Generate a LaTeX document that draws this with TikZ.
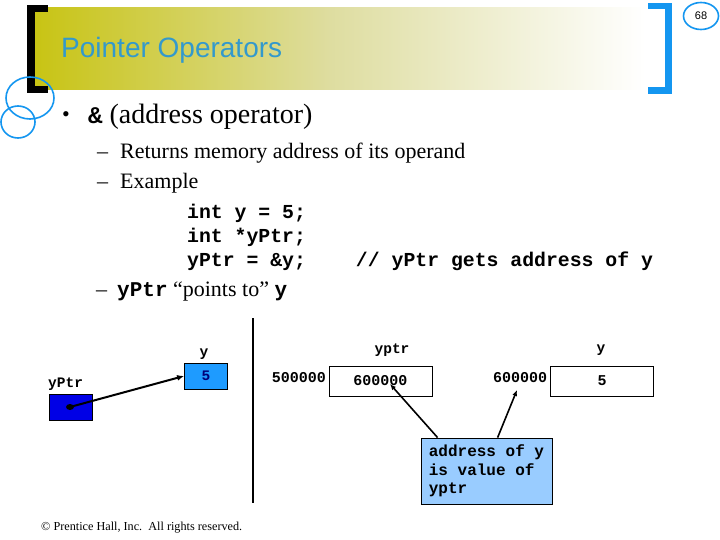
\documentclass[tikz,border=0pt]{standalone}
\usepackage{fontspec}
\setmainfont{Liberation Serif}
\newfontfamily\arialf{Liberation Sans}
\newfontfamily\courf{Liberation Mono}
\usetikzlibrary{arrows.meta,shapes.geometric}
\definecolor{olivey}{RGB}{200,196,20}
\definecolor{olivem}{RGB}{222,221,160}
\definecolor{titleblue}{RGB}{51,153,204}
\definecolor{brblue}{RGB}{20,150,240}
\definecolor{ybox}{RGB}{30,155,255}
\definecolor{pboxc}{RGB}{0,0,230}
\definecolor{calloutc}{RGB}{153,204,255}
\definecolor{darkbluetxt}{RGB}{0,0,120}
\tikzset{
  txt/.style={anchor=west, inner sep=0pt},
  lbl/.style={inner sep=0pt, font=\courf\bfseries\fontsize{14.5}{16}\selectfont},
  mem/.style={inner sep=0pt, font=\courf\bfseries\fontsize{15}{17}\selectfont},
  cell/.style={draw=black, line width=0.8pt, minimum width=103pt, minimum height=30pt, inner sep=0pt, font=\courf\bfseries\fontsize{15}{17}\selectfont},
  arr/.style={-{Latex[length=6pt,width=5pt]}, line width=1.6pt},
}
\begin{document}
\begin{tikzpicture}[x=1pt,y=-1pt]
\useasboundingbox (0,0) rectangle (720,540);
\fill[white] (0,0) rectangle (720,540);
% title band
\shade[left color=olivey, right color=olivem] (35,8) rectangle (330,90);
\shade[left color=olivem, right color=white] (330,8) rectangle (645,90);
% brackets
\fill[black] (27,5) rectangle (35,93);
\fill[black] (27,5) rectangle (48,12);
\fill[black] (27,86) rectangle (48,93);
\fill[brblue] (665,3) rectangle (672,94);
\fill[brblue] (648,3) rectangle (672,9);
\fill[brblue] (648,87) rectangle (672,94);
% decorative circles
\draw[brblue, line width=1.6pt] (30,98) ellipse (24pt and 21pt);
\draw[brblue, line width=1.6pt] (18,122) ellipse (17pt and 16pt);
\node[draw=brblue, line width=1.6pt, ellipse, minimum width=35pt, minimum height=27pt, inner sep=0pt, font=\arialf\fontsize{11}{11}\selectfont] (pagenum) at (701,16) {68};
% title
\node[txt, text=titleblue, font=\arialf\fontsize{28}{28}\selectfont] (title) at (61,50) {Pointer Operators};
% bullets
\node[inner sep=0pt, font=\fontsize{22}{22}\selectfont] (bul) at (66,117) {•};
\node[txt, font=\fontsize{28}{28}\selectfont] (l1) at (88,117) {{\courf\bfseries\fontsize{24}{24}\selectfont\&} (address operator)};
\node[txt, font=\fontsize{22}{22}\selectfont] (l2) at (97,153) {–\hspace{12pt}Returns memory address of its operand};
\node[txt, font=\fontsize{22}{22}\selectfont] (l3) at (97,183) {–\hspace{12pt}Example};
% code
\node[txt, font=\courf\bfseries\fontsize{19.8}{24}\selectfont] (c1) at (187,213) {int y = 5;};
\node[txt, font=\courf\bfseries\fontsize{19.8}{24}\selectfont] (c2) at (187,237) {int *yPtr;};
\node[txt, font=\courf\bfseries\fontsize{19.8}{24}\selectfont] (c3) at (187,261) {yPtr = \&y;\hspace{50pt}// yPtr gets address of y};
\node[txt, font=\fontsize{22}{22}\selectfont] (l4) at (96,292) {–\hspace{10pt}{\courf\bfseries\fontsize{21}{21}\selectfont yPtr} “points to” {\courf\bfseries\fontsize{21}{21}\selectfont y}};
% separator
\coordinate (septop) at (253,318);
\coordinate (sepbot) at (253,503);
\draw[line width=1.2pt] (septop) -- (sepbot);
% left small diagram
\node[lbl] (ylab) at (204,354) {y};
\node[draw=black, line width=0.8pt, fill=ybox, minimum width=43pt, minimum height=26pt, inner sep=0pt, text=darkbluetxt, font=\courf\bfseries\fontsize{14.5}{16}\selectfont] (ysmall) at (206,376) {5};
\node[lbl, anchor=west] (plab) at (48,384) {yPtr};
\node[draw=black, line width=0.8pt, fill=pboxc, minimum width=43pt, minimum height=26pt, inner sep=0pt] (psmall) at (70.5,407) {};
\coordinate (dot) at (70,407);
\fill[black] (dot) ellipse (4pt and 3pt);
\draw[-{Latex[length=7pt,width=6pt]}, line width=2pt] (dot) -- (ysmall.west);
% right memory diagram
\node[lbl] (yptrlab) at (392,350) {yptr};
\node[lbl] (ybiglab) at (601,350) {y};
\node[mem] (addr1) at (299,378) {500000};
\node[cell] (bp) at (380.5,381) {600000};
\node[mem] (addr2) at (520,378) {600000};
\node[cell] (ybig) at (602,381) {5};
% callout
\node[draw=black, line width=0.8pt, fill=calloutc, minimum width=131pt, minimum height=66pt, inner sep=0pt, align=left, font=\courf\bfseries\fontsize{16}{18.5}\selectfont] (call) at (486.5,471) {address of y\\is value of\\yptr\hspace{77pt}};
\coordinate (t1) at (390,384);
\coordinate (t2) at (517,390);
\draw[arr] ([xshift=17pt]call.north west) -- (t1);
\draw[arr] ([xshift=77pt]call.north west) -- (t2);
% footer
\node[txt, font=\fontsize{12.2}{13}\selectfont] (foot) at (41,528) {© Prentice Hall, Inc.\ \ All rights reserved.};
\end{tikzpicture}
\end{document}
